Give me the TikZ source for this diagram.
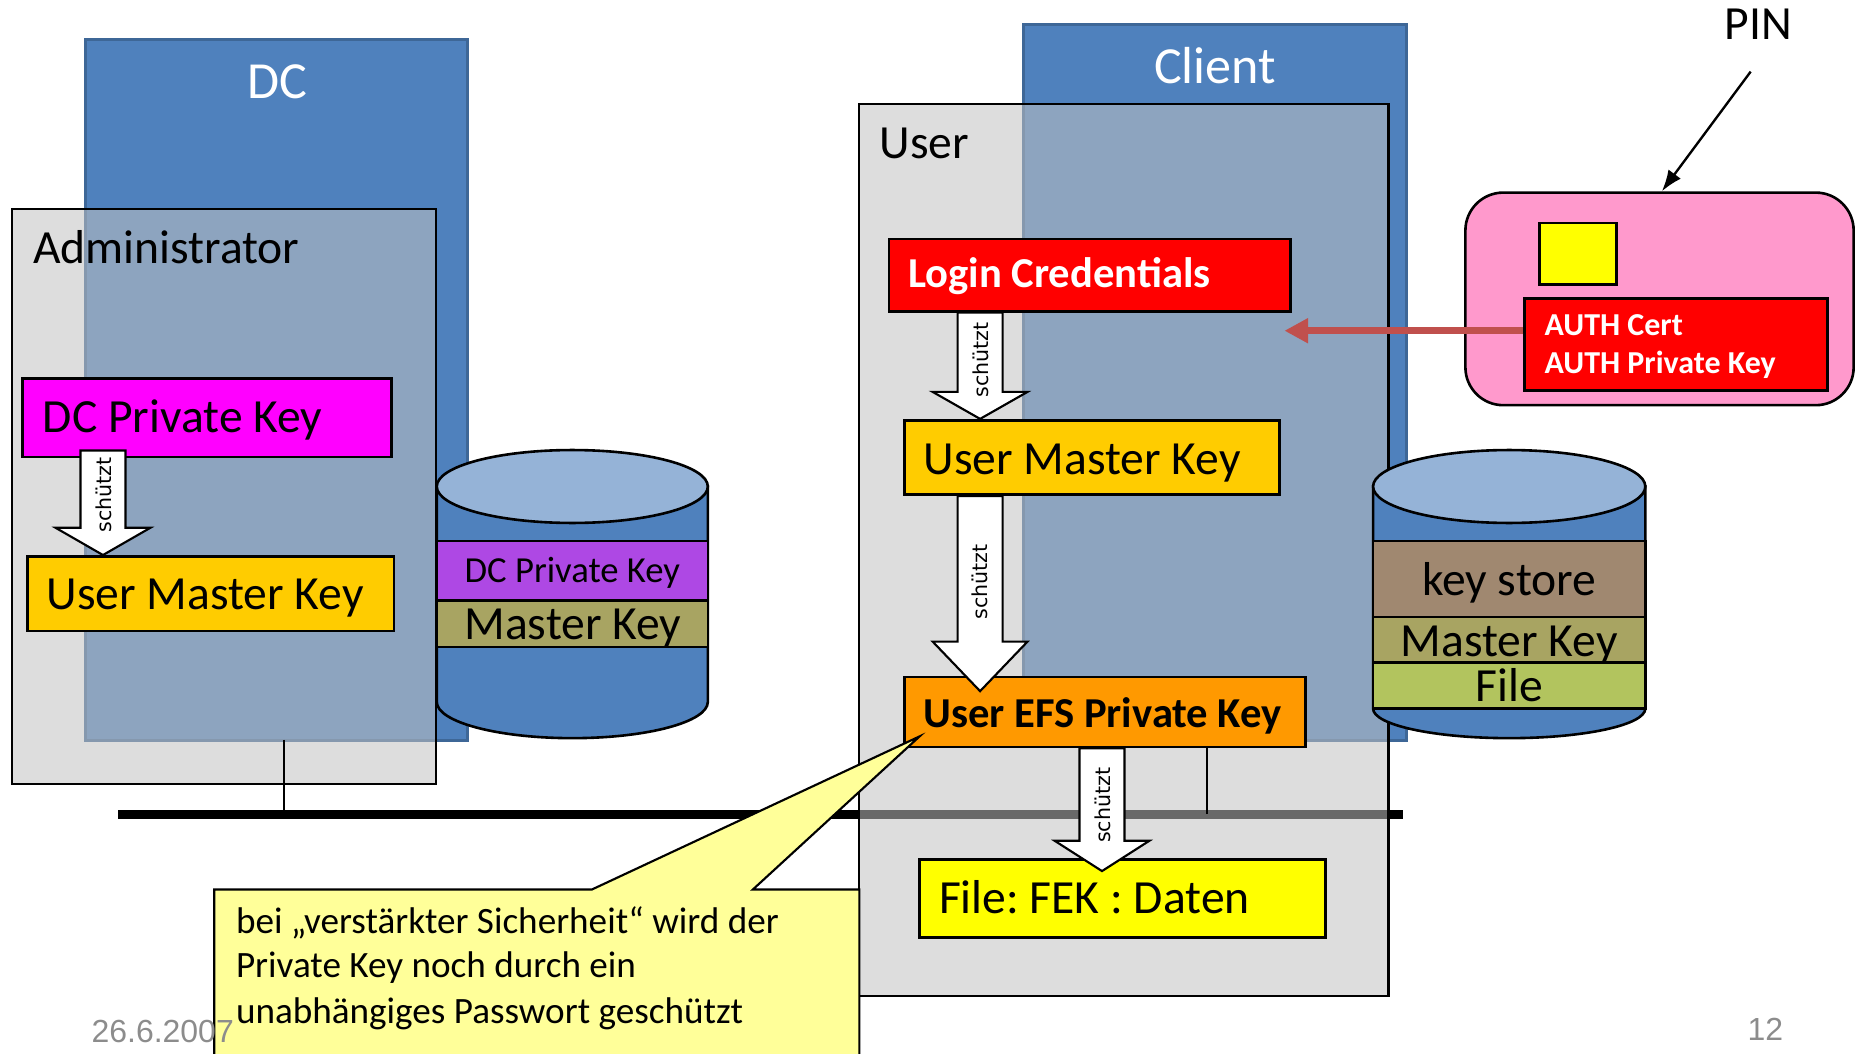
\documentclass[tikz,border=0pt]{standalone}
\usepackage{fontspec}
\setmainfont{Carlito}
\newfontfamily\dejavu{DejaVu Sans}
\newfontfamily\arialf{Liberation Sans}
\usetikzlibrary{arrows.meta,calc}
\frenchspacing
\definecolor{dcblue}{HTML}{4F81BD}
\definecolor{dcborder}{HTML}{3E6797}
\definecolor{cyltop}{HTML}{95B3D7}
\definecolor{overlaygray}{RGB}{193,193,193}
\definecolor{keymagenta}{HTML}{FF00FF}
\definecolor{keyred}{HTML}{FF0000}
\definecolor{keyyellow}{HTML}{FFCC00}
\definecolor{keyorange}{HTML}{FF9900}
\definecolor{fileyellow}{HTML}{FFFF00}
\definecolor{cardpink}{HTML}{FF99CC}
\definecolor{arrowred}{HTML}{C0504D}
\definecolor{calloutyellow}{HTML}{FFFF99}
\definecolor{footgray}{HTML}{8C8C8C}
\definecolor{bandpurple}{HTML}{AE48E4}
\definecolor{bandolive}{HTML}{A8A462}
\definecolor{bandbrown}{HTML}{A08870}
\definecolor{bandgreen}{HTML}{B2C45E}
\newcommand{\blockarrow}[3]{%
  \path[blockarr] let \p1=(#1), \p2=(#2) in
    (\x1-9.5pt,\y1) -- (\x1-9.5pt,\y2+#3) -- (\x1-20pt,\y2+#3) -- (\x1,\y2)
    -- (\x1+20pt,\y2+#3) -- (\x1+9.5pt,\y2+#3) -- (\x1+9.5pt,\y1) -- cycle;}
\begin{document}
\begin{tikzpicture}[x=0.5pt,y=-0.5pt,
  hostbox/.style={rectangle, inner sep=0pt, fill=dcblue, draw=dcborder, line width=1.3pt},
  overlaybox/.style={rectangle, inner sep=0pt, draw=black, line width=0.9pt, fill=overlaygray, fill opacity=0.55},
  keybox/.style={rectangle, draw=black, line width=1.1pt, inner sep=0pt},
  lbl/.style={font=\fontsize{20.1}{24}\selectfont, inner sep=0pt},
  boldlbl/.style={font=\bfseries\fontsize{18}{21}\selectfont, inner sep=0pt},
  txt/.style={anchor=base west},
  blockarr/.style={draw=black, fill=white, line width=0.9pt, line join=miter},
  schuetzt/.style={font=\dejavu\fontsize{8.7}{10}\selectfont, rotate=90, inner sep=0pt},
  cyl/.style={draw=black, line width=1.1pt},
  footer/.style={font=\arialf\fontsize{13.5}{16}\selectfont, text=footgray, inner sep=0pt, anchor=base west},
  callouttxt/.style={font=\fontsize{15.7}{19}\selectfont, inner sep=0pt, anchor=base west}
]
\useasboundingbox (0,0) rectangle (1568,889.6);
\clip (0,0) rectangle (1568,889.6);

% hosts
\node[hostbox, minimum width=161.25pt, minimum height=296pt] (dc) at (233.75,329.5) {};
\node[hostbox, minimum width=161.5pt, minimum height=302.5pt] (client) at (1026.5,323) {};
\node[text=white, font=\fontsize{22}{26}\selectfont, anchor=base, inner sep=0pt] (dclbl) at (234,83) {DC};
\node[text=white, font=\fontsize{22}{26}\selectfont, anchor=base, inner sep=0pt] (clientlbl) at (1026.6,70.4) {Client};

% administrator overlay
\node[overlaybox, minimum width=179.25pt, minimum height=243pt] (admin) at (189.25,419.6) {};
\node[lbl, txt] (adminlbl) at (27.5,223) {Administrator};

% network bus
\coordinate (busL) at (100,688);
\coordinate (busR) at (1185,688);
\draw[line width=3.5pt] (busL) -- (busR);

% user overlay
\node[overlaybox, minimum width=223.5pt, minimum height=376.75pt] (user) at (949.5,464.75) {};
\node[lbl, txt] (userlbl) at (742.6,133.5) {User};

% drops to bus
\coordinate (dcdrop) at (240,625);
\coordinate (cldrop) at (1020,625);
\draw[line width=0.9pt] (dcdrop) -- (dcdrop |- busL);
\draw[line width=0.9pt] (cldrop) -- (cldrop |- busL);

% left cylinder
\path[cyl, fill=dcblue] (369,411) -- (369,593) arc[start angle=180, end angle=360, x radius=57.25pt, y radius=15.3pt] -- (598,411) -- cycle;
\draw[cyl, fill=bandpurple] (369,457.2) rectangle (598,507.2);
\draw[cyl, fill=bandolive] (369,507.2) rectangle (598,546.7);
\draw[cyl, fill=cyltop] (483.5,411) ellipse[x radius=57.25pt, y radius=15.4pt];
\node[font=\fontsize{15.5}{18}\selectfont, anchor=base, inner sep=0pt] (dcband1) at (483.5,492.2) {DC Private Key};
\node[lbl, anchor=base] (dcband2) at (484,540.5) {Master Key};

% right cylinder
\path[cyl, fill=dcblue] (1160,411) -- (1160,598.6) arc[start angle=180, end angle=360, x radius=57.5pt, y radius=12.5pt] -- (1390,411) -- cycle;
\draw[cyl, fill=bandbrown] (1160,457.2) rectangle (1390,521.4);
\draw[cyl, fill=bandolive] (1160,521.4) rectangle (1390,559.8);
\draw[cyl, fill=bandgreen] (1160,559.8) rectangle (1390,598.6);
\draw[cyl, fill=cyltop] (1275,411) ellipse[x radius=57.5pt, y radius=15.4pt];
\node[lbl, anchor=base] (clband1) at (1275,503.5) {key store};
\node[lbl, anchor=base] (clband2) at (1275,554.6) {Master Key};
\node[lbl, anchor=base] (clband3) at (1275,592.4) {File};

% key boxes
\node[keybox, fill=keymagenta, minimum width=156pt, minimum height=33pt] (dcpk) at (175,353) {};
\node[lbl, txt] (dcpkt) at ($(dcpk.west)+(18,12)$) {DC Private Key};
\node[keybox, fill=keyyellow, minimum width=155pt, minimum height=31.5pt] (umk1) at (178,501.5) {};
\node[lbl, txt] (umk1t) at ($(umk1.west)+(17,13.5)$) {User Master Key};
\node[keybox, fill=keyred, minimum width=169.5pt, minimum height=30.5pt] (login) at (920.5,232.5) {};
\node[boldlbl, txt, text=white] (logint) at ($(login.west)+(17,10.3)$) {Login Credentials};
\node[keybox, fill=keyyellow, minimum width=158.5pt, minimum height=31.5pt] (umk2) at (922.5,386.5) {};
\node[lbl, txt] (umk2t) at ($(umk2.west)+(17,14)$) {User Master Key};
\node[keybox, fill=keyorange, minimum width=169.5pt, minimum height=29.5pt] (efs) at (933.5,601.5) {};
\node[boldlbl, txt] (efst) at ($(efs.west)+(17,12.8)$) {User EFS Private Key};
\node[keybox, fill=fileyellow, minimum width=171.5pt, minimum height=33pt] (file) at (948.5,759) {};
\node[lbl, txt] (filet) at ($(file.west)+(17,13)$) {File: FEK : Daten};

% smart card
\node[rectangle, rounded corners=16pt, draw=black, line width=1.1pt, fill=cardpink, minimum width=164pt, minimum height=89.8pt, inner sep=0pt] (card) at (1402,252.5) {};
\node[keybox, fill=fileyellow, minimum width=32.4pt, minimum height=26pt] (chip) at (1333,214.3) {};
\node[keybox, fill=keyred, minimum width=128pt, minimum height=38.9pt] (auth) at (1416,291.1) {};
\node[txt, text=white, inner sep=0pt, font=\bfseries\fontsize{13.5}{16}\selectfont] (autht1) at ($(auth.west)+(17.6,-7.6)$) {AUTH Cert};
\node[txt, text=white, inner sep=0pt, font=\bfseries\fontsize{13.5}{16}\selectfont] (autht2) at ($(auth.west)+(17.6,24.1)$) {AUTH Private Key};

% red arrow card -> login
\coordinate (redtip) at ($(login.south east)+(-6,15.3)$);
\draw[arrowred, line width=3pt, -{Triangle[length=10pt,width=10pt]}] (auth.west |- redtip) -- (redtip);

% PIN
\node[lbl, txt] (pin) at (1456.7,33.5) {PIN};
\coordinate (pinfrom) at (1479,60.5);
\draw[line width=1pt, -{Latex[length=9pt,width=6.5pt]}] (pinfrom) -- ($(card.north)+(2,0)$);

% block arrows "schützt"
\coordinate (a1x) at (87,0);
\coordinate (a2x) at (828,0);
\coordinate (a4x) at (931,0);
\blockarrow{$(a1x |- dcpk.south)+(0,-6.5)$}{a1x |- umk1.north}{11.5pt}
\node[schuetzt] (s1) at (88,418) {schützt};
\blockarrow{a2x |- login.south}{a2x |- umk2.north}{11.4pt}
\node[schuetzt] (s2) at (829,304) {schützt};
\blockarrow{a2x |- umk2.south}{$(a2x |- efs.north)+(0,13)$}{20.9pt}
\node[schuetzt] (s3) at (828,491.5) {schützt};
\blockarrow{a4x |- efs.south}{$(a4x |- file.north)+(0,11)$}{12.8pt}
\node[schuetzt] (s4) at (931.6,680.3) {schützt};

% callout
\path[fill=calloutyellow, draw=black, line width=0.9pt, line join=miter]
  (181,900) -- (181,751.5) -- (500,751.5) -- ($(efs.south west)+(14,-10)$) -- (636,751.5) -- (726,751.5) -- (726,900);
\node[callouttxt] (c1) at (199,789) {bei „verstärkter Sicherheit“ wird der};
\node[callouttxt] (c2) at (199,826) {Private Key noch durch ein};
\node[callouttxt] (c3) at (199,865) {unabhängiges Passwort geschützt};

% footer
\node[footer] (date) at (77,881) {26.6.2007};
\node[footer] (page) at (1476,879.3) {12};
\end{tikzpicture}
\end{document}
